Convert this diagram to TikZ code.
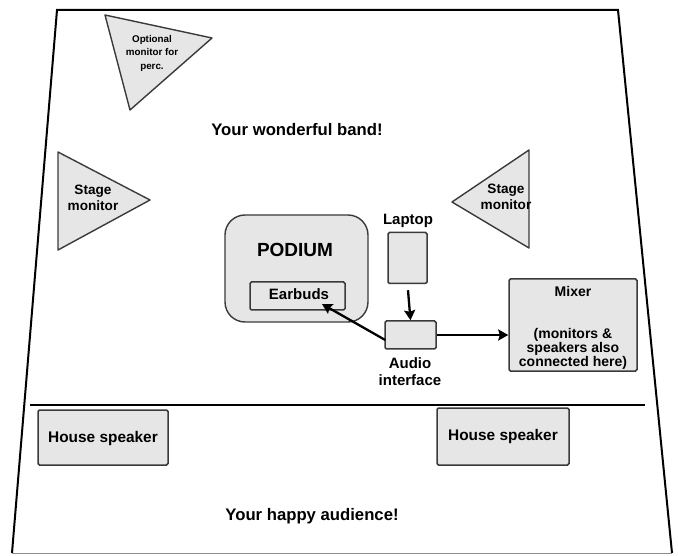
\documentclass[tikz,border=0pt]{standalone}
\usepackage{fontspec}
\setmainfont{Liberation Sans}
\usetikzlibrary{arrows.meta}
\definecolor{boxfill}{HTML}{E6E6E6}
\definecolor{boxline}{HTML}{3A3A3A}
\tikzset{
  outline/.style={line width=2pt, black},
  graybox/.style={draw=boxline, fill=boxfill, line width=1.5pt, rounded corners=1.5pt, inner sep=0pt},
  tri/.style={draw=boxline, fill=boxfill, line width=1.4pt, line join=round},
  lbl/.style={font=\bfseries, align=center, inner sep=0pt},
  conn/.style={line width=2.3pt, black, -{Stealth[length=10pt,width=11pt,inset=1.5pt]}}
}
\begin{document}
\begin{tikzpicture}[x=1pt,y=-1pt]
\useasboundingbox (0,0) rectangle (678,556);
% stage outline
\draw[outline] (12,553) -- (57,10) -- (618,10) -- (672,553);
\draw[line width=1.5pt, black!45] (12,553.5) -- (672,553.5);
\draw[outline] (30,405) -- (645,405);
% triangles
\draw[tri] (105,15) -- (212,38) -- (130,110) -- cycle;
\node[lbl, font=\bfseries\fontsize{9.8}{13.5}\selectfont] (optmon) at (152,53) {Optional\\monitor for\\perc.};
\draw[tri] (58,152) -- (150,200) -- (58,250) -- cycle;
\node[lbl, font=\bfseries\fontsize{13.6}{15.5}\selectfont] (stageL) at (93,198) {Stage\\monitor};
\draw[tri] (529,150) -- (452,202) -- (529,248) -- cycle;
\node[lbl, font=\bfseries\fontsize{13.6}{16.5}\selectfont] (stageR) at (506,197) {Stage\\monitor};
% titles
\node[lbl, font=\bfseries\fontsize{16.7}{19}\selectfont] (band) at (297,130) {Your wonderful band!};
\node[lbl, font=\bfseries\fontsize{16.7}{19}\selectfont] (aud) at (312,516) {Your happy audience!};
% podium
\node[draw=boxline, fill=boxfill, line width=1.4pt, rounded corners=20pt, minimum width=143pt, minimum height=107pt, inner sep=0pt] (podium) at (296.5,268.5) {};
\node[lbl, font=\bfseries\fontsize{19}{22}\selectfont] (podlbl) at (295,250) {PODIUM};
\node[graybox, minimum width=95pt, minimum height=28pt] (earbuds) at (297.5,296) {};
\node[lbl, font=\bfseries\fontsize{15}{18}\selectfont] (earlbl) at (299,294) {Earbuds};
% laptop
\node[lbl, font=\bfseries\fontsize{15}{18}\selectfont] (laplbl) at (408,221) {Laptop};
\node[graybox, minimum width=39pt, minimum height=51pt] (laptop) at (407.5,258) {};
% audio interface
\node[graybox, minimum width=51pt, minimum height=28pt] (audio) at (410.5,335) {};
\node[lbl, font=\bfseries\fontsize{15}{17}\selectfont, anchor=north] (audlbl) at (410,357) {Audio\\interface};
% mixer
\node[graybox, minimum width=128pt, minimum height=92pt] (mixer) at (573,325) {};
\node[lbl, font=\bfseries\fontsize{14}{14}\selectfont, anchor=north] (mixlbl) at (573,286) {Mixer\\[28pt](monitors \&\\speakers also\\connected here)};
% house speakers
\node[graybox, minimum width=130pt, minimum height=55pt] (hsL) at (103,437.5) {};
\node[lbl, font=\bfseries\fontsize{15.4}{18}\selectfont] (hsLl) at (103,439) {House speaker};
\node[graybox, minimum width=132pt, minimum height=57pt] (hsR) at (503,436.5) {};
\node[lbl, font=\bfseries\fontsize{15.4}{18}\selectfont] (hsRl) at (503,437) {House speaker};
% connectors
\coordinate (eartip) at (322,304);
\draw[conn, shorten <=6pt] (laptop.south) -- (audio.north);
\draw[conn] ([xshift=1pt,yshift=-5pt]audio.west) -- (eartip);
\draw[conn] (audio.east) -- (audio.east -| mixer.west);
\end{tikzpicture}
\end{document}
